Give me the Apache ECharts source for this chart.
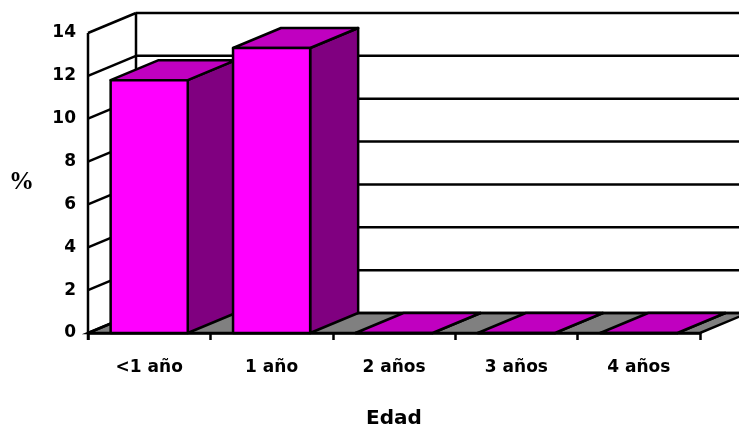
<!DOCTYPE html>
<html>
<head>
<meta charset="utf-8">
<script src="https://cdn.jsdelivr.net/npm/echarts@6/dist/echarts.min.js"></script>
<style>html,body{margin:0;padding:0;background:#fff;}#c{width:739px;height:432px;}</style>
</head>
<body>
<div id="c"></div>
<script>
const categories = ['<1 año', '1 año', '2 años', '3 años', '4 años'];
const values = [11.8, 13.3, 0, 0, 0];
const yTicks = [0, 2, 4, 6, 8, 10, 12, 14];
const xTitle = 'Edad';
const yTitle = '%';

const DX = 48, DY = 20, LW = 2.5;
const FONT = '"DejaVu Sans", sans-serif';
const chart = echarts.init(document.getElementById('c'));

function line(x1, y1, x2, y2) {
  return { type: 'line', shape: { x1: x1, y1: y1, x2: x2, y2: y2 }, style: { stroke: '#000', lineWidth: LW } };
}

function renderWalls(params, api) {
  const band = api.size([1, 0])[0];
  const xL = api.coord([0, 0])[0] - band / 2;
  const xR = api.coord([categories.length - 1, 0])[0] + band / 2;
  const y0 = api.coord([0, 0])[1];
  const yTop = api.coord([0, yTicks[yTicks.length - 1]])[1];
  const children = [];
  children.push({ type: 'polygon', shape: { points: [[xL, y0], [xR, y0], [xR + DX, y0 - DY], [xL + DX, y0 - DY]] },
    style: { fill: '#808080', stroke: '#000', lineWidth: LW } });
  yTicks.forEach(function (v) {
    const y = api.coord([0, v])[1];
    children.push(line(xL, y, xL + DX, y - DY));
    children.push(line(xL + DX, y - DY, xR + DX, y - DY));
  });
  children.push(line(xL + DX, y0 - DY, xL + DX, yTop - DY));
  children.push(line(xL, y0 + 7, xL, yTop));
  return { type: 'group', children: children };
}

function renderBars(params, api) {
  const band = api.size([1, 0])[0];
  const c = api.coord([api.value(0), api.value(1)]);
  const b = api.coord([api.value(0), 0]);
  const w = band * 0.63;
  const x1 = c[0] - w / 2, x2 = c[0] + w / 2, yT = c[1], yB = b[1];
  const st = function (f) { return { fill: f, stroke: '#000', lineWidth: LW, lineJoin: 'round' }; };
  return { type: 'group', children: [
    { type: 'polygon', shape: { points: [[x2, yB], [x2 + DX, yB - DY], [x2 + DX, yT - DY], [x2, yT]] }, style: st('#800080') },
    { type: 'polygon', shape: { points: [[x1, yT], [x2, yT], [x2 + DX, yT - DY], [x1 + DX, yT - DY]] }, style: st('#C000C0') },
    { type: 'polygon', shape: { points: [[x1, yB], [x2, yB], [x2, yT], [x1, yT]] }, style: st('#FF00FF') }
  ] };
}

chart.setOption({
  animation: false,
  grid: { left: 88, top: 33, width: 612, height: 300 },
  xAxis: {
    type: 'category', data: categories, boundaryGap: true,
    axisLine: { show: true, lineStyle: { color: '#000', width: LW } },
    axisTick: { show: true, length: 7, interval: 0, lineStyle: { color: '#000', width: LW } },
    axisLabel: { interval: 0, margin: 26, color: '#000', fontFamily: FONT, fontWeight: 'bold', fontSize: 17 },
    splitLine: { show: false }
  },
  yAxis: {
    type: 'value', min: 0, max: 14, interval: 2,
    axisLine: { show: false },
    axisTick: { show: false },
    splitLine: { show: false },
    axisLabel: { margin: 12, color: '#000', fontFamily: FONT, fontWeight: 'bold', fontSize: 17 }
  },
  graphic: [
    { type: 'text', x: 394, y: 409, style: { text: xTitle, fill: '#000', fontFamily: FONT, fontWeight: 'bold', fontSize: 20, textAlign: 'center' } },
    { type: 'text', x: 9, y: 170, style: { text: yTitle, fill: '#000', fontFamily: '"Liberation Serif", "DejaVu Serif", serif', fontWeight: 'bold', fontSize: 25 } }
  ],
  series: [
    { type: 'custom', renderItem: renderWalls, data: [[0, 0]], clip: false, silent: true, z: 1 },
    { type: 'custom', renderItem: renderBars, data: values.map(function (v, i) { return [i, v]; }), clip: false, z: 2 }
  ]
});
</script>
</body>
</html>
